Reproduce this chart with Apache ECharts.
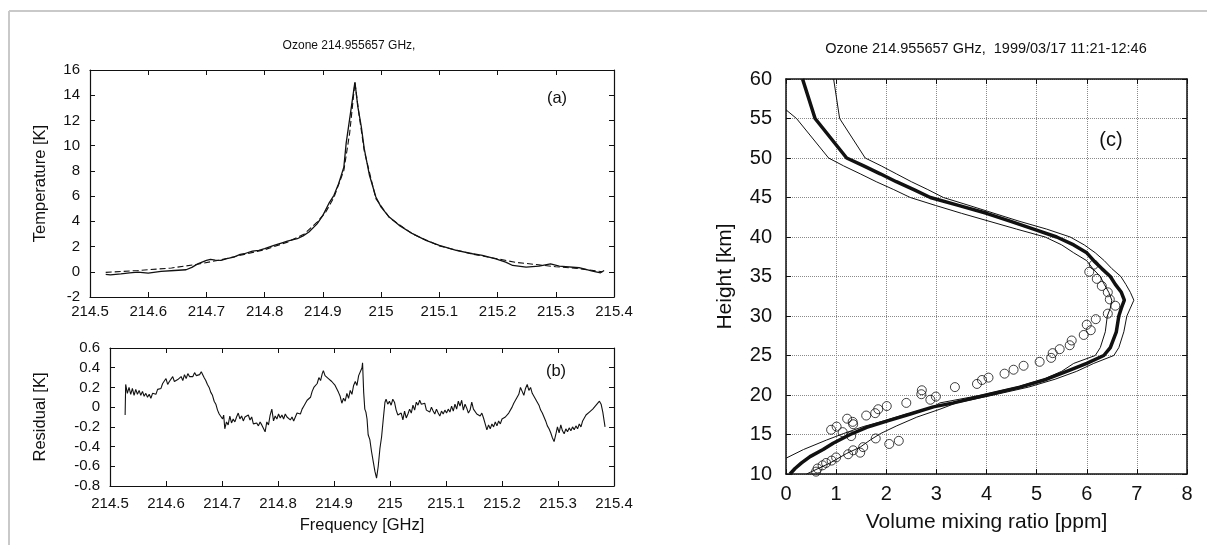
<!DOCTYPE html>
<html>
<head>
<meta charset="utf-8">
<title>Ozone 214.955657 GHz</title>
<script src="https://cdn.jsdelivr.net/npm/echarts@6/dist/echarts.min.js"></script>
<style>
  html, body { margin: 0; padding: 0; background: #fff; }
  #main { width: 1207px; height: 545px; }
</style>
</head>
<body>
<div id="main"></div>
<script>
// (a) measured spectrum [GHz, K]
const spectrum = [
  [214.527, -0.2], [214.535, -0.25], [214.553, -0.16], [214.568, -0.08], [214.582, -0.03],
  [214.6, -0.1], [214.622, 0.03], [214.645, 0.1], [214.665, 0.16], [214.675, 0.35],
  [214.685, 0.63], [214.7, 0.9], [214.707, 0.98], [214.715, 0.92], [214.725, 0.9],
  [214.735, 1.05], [214.747, 1.16], [214.758, 1.38], [214.765, 1.43], [214.779, 1.64],
  [214.79, 1.7], [214.8, 1.83], [214.816, 2.09], [214.83, 2.3], [214.839, 2.43],
  [214.856, 2.62], [214.866, 2.85], [214.876, 3.15], [214.89, 3.8], [214.9, 4.47],
  [214.91, 5.4], [214.919, 6.06], [214.927, 6.98], [214.936, 8.3], [214.94, 10.2],
  [214.949, 13.1], [214.955, 15.05], [214.96, 13.1], [214.966, 11.5], [214.971, 9.76],
  [214.98, 7.65], [214.991, 5.93], [215.0, 5.13], [215.014, 4.34], [215.031, 3.68],
  [215.054, 3.02], [215.077, 2.49], [215.1, 2.09], [215.129, 1.69], [215.157, 1.43],
  [215.174, 1.3], [215.197, 1.03], [215.214, 0.77], [215.226, 0.5], [215.249, 0.37],
  [215.271, 0.45], [215.291, 0.63], [215.306, 0.45], [215.34, 0.32], [215.363, 0.05],
  [215.377, -0.08], [215.383, 0.1]
];

// (a) model fit, dashed
const fit = [
  [214.527, -0.05], [214.582, 0.1], [214.64, 0.3], [214.685, 0.6], [214.725, 0.95],
  [214.765, 1.38], [214.8, 1.75], [214.839, 2.35], [214.868, 3.0], [214.89, 3.94],
  [214.905, 4.74], [214.919, 5.9], [214.936, 8.04], [214.946, 11.0], [214.955, 15.0],
  [214.962, 12.5], [214.971, 9.6], [214.991, 5.8], [215.014, 4.3], [215.054, 3.0],
  [215.1, 2.05], [215.157, 1.4], [215.197, 1.05], [215.231, 0.75], [215.271, 0.55],
  [215.3, 0.4], [215.34, 0.25], [215.38, 0.0]
];

// (b) residual [GHz, K]
const residual = [
  [214.527, -0.08], [214.528, 0.23], [214.531, 0.14], [214.534, 0.2], [214.537, 0.13],
  [214.54, 0.19], [214.543, 0.12], [214.546, 0.18], [214.549, 0.13], [214.552, 0.17],
  [214.555, 0.12], [214.558, 0.16], [214.561, 0.11], [214.564, 0.14], [214.567, 0.1],
  [214.57, 0.13], [214.573, 0.09], [214.576, 0.14], [214.579, 0.16], [214.582, 0.13],
  [214.585, 0.18], [214.588, 0.2], [214.591, 0.19], [214.594, 0.24], [214.597, 0.22],
  [214.6, 0.29], [214.603, 0.23], [214.606, 0.26], [214.609, 0.24], [214.612, 0.31],
  [214.615, 0.26], [214.618, 0.25], [214.621, 0.28], [214.624, 0.26], [214.627, 0.31],
  [214.63, 0.27], [214.633, 0.33], [214.636, 0.29], [214.639, 0.34], [214.642, 0.31],
  [214.645, 0.33], [214.648, 0.31], [214.651, 0.35], [214.654, 0.32], [214.657, 0.34],
  [214.66, 0.33], [214.663, 0.36], [214.665, 0.38], [214.668, 0.3], [214.671, 0.27],
  [214.674, 0.23], [214.677, 0.2], [214.68, 0.15], [214.683, 0.12], [214.686, 0.06],
  [214.689, 0.03], [214.692, -0.03], [214.695, -0.07], [214.698, -0.05], [214.701, -0.12],
  [214.703, -0.08], [214.705, -0.22], [214.708, -0.15], [214.711, -0.18], [214.714, -0.09],
  [214.717, -0.16], [214.72, -0.12], [214.723, -0.15], [214.726, -0.1], [214.729, -0.06],
  [214.732, -0.12], [214.735, -0.09], [214.738, -0.14], [214.741, -0.1], [214.744, -0.12],
  [214.747, -0.08], [214.75, -0.13], [214.753, -0.1], [214.756, -0.17], [214.759, -0.19],
  [214.762, -0.16], [214.765, -0.19], [214.768, -0.15], [214.771, -0.18], [214.774, -0.16],
  [214.777, -0.25], [214.78, -0.15], [214.783, -0.18], [214.786, -0.08], [214.789, -0.02],
  [214.792, -0.14], [214.795, -0.09], [214.798, -0.12], [214.801, -0.07], [214.804, -0.11],
  [214.807, -0.08], [214.81, -0.12], [214.813, -0.07], [214.816, -0.1], [214.819, -0.09],
  [214.822, -0.13], [214.825, -0.1], [214.828, -0.14], [214.831, -0.1], [214.834, -0.06],
  [214.837, -0.04], [214.84, -0.07], [214.843, -0.02], [214.846, 0.01], [214.849, 0.03],
  [214.852, 0.07], [214.855, 0.09], [214.858, 0.1], [214.861, 0.16], [214.864, 0.2],
  [214.867, 0.18], [214.87, 0.24], [214.873, 0.3], [214.876, 0.27], [214.879, 0.34],
  [214.881, 0.37], [214.884, 0.32], [214.887, 0.33], [214.89, 0.29], [214.893, 0.3],
  [214.896, 0.26], [214.899, 0.27], [214.902, 0.22], [214.905, 0.23], [214.908, 0.15],
  [214.911, 0.11], [214.914, 0.04], [214.917, 0.09], [214.92, 0.06], [214.923, 0.14],
  [214.926, 0.09], [214.929, 0.17], [214.932, 0.13], [214.935, 0.22], [214.938, 0.26],
  [214.941, 0.22], [214.944, 0.32], [214.947, 0.3], [214.95, 0.4], [214.951, 0.45],
  [214.953, 0.15], [214.955, -0.02], [214.957, -0.05], [214.959, -0.12], [214.961, -0.28],
  [214.964, -0.33], [214.967, -0.45], [214.97, -0.55], [214.973, -0.65], [214.976, -0.72],
  [214.979, -0.6], [214.982, -0.42], [214.985, -0.3], [214.988, -0.12], [214.991, 0.05],
  [214.993, 0.08], [214.996, 0.03], [214.999, 0.06], [215.002, 0.02], [215.005, 0.08],
  [215.008, 0.05], [215.011, -0.03], [215.014, -0.08], [215.017, -0.1], [215.02, -0.06],
  [215.023, -0.13], [215.026, -0.04], [215.029, -0.11], [215.032, -0.07], [215.035, -0.02],
  [215.038, -0.06], [215.041, 0.02], [215.044, -0.03], [215.047, 0.05], [215.05, 0.02],
  [215.053, 0.07], [215.056, 0.03], [215.059, 0.01], [215.062, 0.04], [215.065, -0.03],
  [215.068, -0.01], [215.071, -0.05], [215.074, 0.0], [215.077, -0.04], [215.08, -0.07],
  [215.083, -0.02], [215.086, -0.06], [215.089, -0.09], [215.092, -0.04], [215.095, -0.07],
  [215.098, -0.03], [215.101, -0.06], [215.104, -0.02], [215.107, -0.05], [215.11, 0.01],
  [215.113, -0.04], [215.116, 0.03], [215.119, -0.02], [215.122, 0.06], [215.125, 0.01],
  [215.128, 0.07], [215.131, -0.03], [215.134, 0.03], [215.137, -0.01], [215.14, -0.06],
  [215.143, -0.03], [215.146, 0.05], [215.149, -0.02], [215.152, 0.0], [215.155, -0.07],
  [215.158, -0.05], [215.161, -0.09], [215.164, -0.06], [215.167, -0.11], [215.17, -0.17],
  [215.173, -0.23], [215.176, -0.18], [215.179, -0.22], [215.182, -0.17], [215.185, -0.2],
  [215.188, -0.15], [215.191, -0.19], [215.194, -0.14], [215.197, -0.17], [215.2, -0.12],
  [215.203, -0.14], [215.206, -0.1], [215.209, -0.11], [215.212, -0.06], [215.215, -0.04],
  [215.218, 0.0], [215.221, 0.04], [215.224, 0.06], [215.227, 0.1], [215.23, 0.13],
  [215.233, 0.2], [215.236, 0.16], [215.239, 0.12], [215.242, 0.19], [215.245, 0.23],
  [215.248, 0.17], [215.251, 0.2], [215.254, 0.14], [215.257, 0.12], [215.26, 0.08],
  [215.263, 0.05], [215.266, 0.02], [215.269, -0.03], [215.272, -0.06], [215.275, -0.08],
  [215.278, -0.14], [215.281, -0.19], [215.284, -0.22], [215.287, -0.26], [215.29, -0.31],
  [215.293, -0.35], [215.296, -0.28], [215.299, -0.2], [215.302, -0.26], [215.305, -0.18],
  [215.308, -0.24], [215.311, -0.27], [215.314, -0.22], [215.317, -0.25], [215.32, -0.21],
  [215.323, -0.24], [215.326, -0.2], [215.329, -0.23], [215.332, -0.19], [215.335, -0.22],
  [215.338, -0.17], [215.341, -0.2], [215.344, -0.14], [215.347, -0.12], [215.35, -0.08],
  [215.353, -0.1], [215.356, -0.05], [215.359, -0.06], [215.362, -0.02], [215.365, -0.03],
  [215.368, 0.02], [215.371, 0.03], [215.374, 0.06], [215.377, 0.03], [215.38, -0.05],
  [215.384, -0.2]
];

// (c) retrieved profile [ppm, km]
const retrieved = [
  [0.08, 10], [0.18, 10.7], [0.31, 11.4], [0.48, 12.2], [0.74, 13.1], [0.94, 13.9],
  [1.28, 15], [1.61, 15.9], [2.01, 16.7], [2.48, 17.6], [2.94, 18.5], [3.34, 19],
  [4.0, 20], [4.67, 21], [5.2, 22], [5.6, 23], [6.0, 24], [6.34, 25], [6.47, 26],
  [6.59, 28], [6.64, 30], [6.69, 31], [6.75, 32], [6.69, 33], [6.57, 34], [6.47, 35],
  [6.3, 36], [6.14, 37], [6.0, 38], [5.74, 39], [5.4, 40], [4.94, 41], [4.47, 42],
  [4.0, 43], [3.44, 44], [2.88, 45], [2.55, 46], [2.2, 47], [1.88, 48], [1.55, 49],
  [1.21, 50], [0.58, 55], [0.33, 60]
];

// (c) error envelope
const lowerBound = [
  [0, 12], [0.35, 13.1], [0.81, 14.3], [1.14, 15.1], [1.54, 16], [1.94, 16.7],
  [2.41, 17.6], [2.94, 18.5], [3.07, 19], [3.91, 20], [4.6, 21], [5.14, 22], [5.5, 23],
  [5.74, 24], [6.17, 25], [6.27, 26], [6.37, 28], [6.41, 30], [6.47, 31], [6.5, 32],
  [6.44, 33], [6.35, 34], [6.27, 35], [6.12, 36], [6.0, 37], [5.74, 38], [5.5, 39],
  [5.17, 40], [4.6, 41], [4.05, 42], [3.5, 43], [2.98, 44], [2.48, 45], [2.15, 46],
  [1.8, 47], [1.48, 48], [1.15, 49], [0.85, 50], [0.21, 55], [0, 56.1]
];
const upperBound = [
  [0.41, 10], [0.88, 11.4], [1.21, 12.6], [1.48, 13.4], [1.68, 14.3], [1.88, 15.1],
  [2.21, 16.1], [2.61, 17.2], [3.07, 18.2], [3.4, 19], [4.14, 20], [4.84, 21],
  [5.37, 22], [5.8, 23], [6.14, 24], [6.54, 25], [6.64, 26], [6.74, 28], [6.8, 30],
  [6.87, 31], [6.94, 32], [6.87, 33], [6.78, 34], [6.68, 35], [6.5, 36], [6.35, 37],
  [6.17, 38], [5.95, 39], [5.67, 40], [5.2, 41], [4.65, 42], [4.15, 43], [3.65, 44],
  [3.14, 45], [2.83, 46], [2.5, 47], [2.2, 48], [1.9, 49], [1.58, 50], [1.07, 55],
  [0.95, 60]
];

// (c) sonde points, open circles
const sonde = [
  [6.14, 36.5], [6.05, 35.6], [6.2, 34.7], [6.3, 33.8], [6.42, 33.0], [6.46, 32.1],
  [6.57, 31.3], [6.42, 30.3], [6.18, 29.6], [6.0, 28.9], [6.08, 28.2], [5.94, 27.6],
  [5.7, 26.9], [5.66, 26.3], [5.46, 25.8], [5.32, 25.3], [5.29, 24.7], [5.06, 24.2],
  [4.74, 23.7], [4.54, 23.2], [4.36, 22.7], [4.04, 22.2], [3.91, 21.9], [3.81, 21.4],
  [3.37, 21.0], [2.71, 20.6], [2.7, 20.1], [2.99, 19.8], [2.88, 19.4], [2.4, 19.0],
  [2.01, 18.6], [1.84, 18.2], [1.78, 17.7], [1.6, 17.4], [1.22, 17.0], [1.33, 16.6],
  [1.34, 16.3], [1.01, 16.0], [0.9, 15.6], [1.13, 15.3], [1.3, 14.8], [1.79, 14.5],
  [2.25, 14.2], [2.06, 13.8], [1.54, 13.4], [1.34, 13.0], [1.48, 12.7], [1.24, 12.5],
  [1.0, 12.1], [0.91, 11.7], [0.8, 11.4], [0.73, 11.1], [0.63, 10.7], [0.6, 10.3]
];

const FONT = "'Liberation Sans', Arial, sans-serif";

var chartDom = document.getElementById('main');
var myChart = echarts.init(chartDom, null, { renderer: 'canvas' });

// one axis of a gnuplot-like box: ticks point inward, mirrors carry no labels
function boxAxis(grid, pos, min, max, interval, opts) {
  opts = opts || {};
  return {
    type: 'value',
    gridIndex: grid,
    position: pos,
    min: min,
    max: max,
    interval: interval,
    axisLine: { show: true, onZero: false, lineStyle: { color: '#111', width: opts.lineWidth || 1.2 } },
    axisTick: { show: true, inside: true, length: 5, lineStyle: { color: '#111', width: 1 } },
    axisLabel: {
      show: !!opts.label,
      color: '#111',
      fontFamily: FONT,
      fontSize: opts.fontSize || 15,
      margin: opts.margin || 8
    },
    splitLine: opts.grid
      ? { show: true, lineStyle: { color: '#8a8a8a', type: 'dotted', width: 1 } }
      : { show: false },
    name: opts.name || '',
    nameLocation: 'middle',
    nameGap: opts.nameGap || 0,
    nameTextStyle: { color: '#111', fontFamily: FONT, fontSize: opts.nameSize || 16.5 }
  };
}

function lineSeries(data, x, y, width, dashed) {
  return {
    type: 'line',
    xAxisIndex: x,
    yAxisIndex: y,
    data: data,
    showSymbol: false,
    smooth: false,
    clip: true,
    lineStyle: { color: '#111', width: width, type: dashed ? [6, 3] : 'solid' },
    z: dashed ? 3 : 4
  };
}

function label(text, x, y, size) {
  return {
    type: 'text',
    x: x,
    y: y,
    style: {
      text: text,
      fill: '#111',
      font: size + 'px ' + FONT,
      textAlign: 'center',
      textVerticalAlign: 'middle'
    }
  };
}

var option = {
  animation: false,
  backgroundColor: '#fff',
  grid: [
    { left: 90, top: 70, width: 524, height: 227 },
    { left: 110, top: 348, width: 504, height: 138 },
    { left: 786, top: 79, width: 401, height: 395 }
  ],
  xAxis: [
    boxAxis(0, 'bottom', 214.5, 215.4, 0.1, { label: true, margin: 7 }),
    boxAxis(0, 'top', 214.5, 215.4, 0.1),
    boxAxis(1, 'bottom', 214.5, 215.4, 0.1, { label: true, margin: 10, name: 'Frequency [GHz]', nameGap: 31 }),
    boxAxis(1, 'top', 214.5, 215.4, 0.1),
    boxAxis(2, 'bottom', 0, 8, 1, {
      label: true, grid: true, fontSize: 20, margin: 10, lineWidth: 1.5,
      name: 'Volume mixing ratio [ppm]', nameGap: 38, nameSize: 21
    }),
    boxAxis(2, 'top', 0, 8, 1, { lineWidth: 1.5 })
  ],
  yAxis: [
    boxAxis(0, 'left', -2, 16, 2, { label: true, margin: 10, name: 'Temperature [K]', nameGap: 41 }),
    boxAxis(0, 'right', -2, 16, 2),
    boxAxis(1, 'left', -0.8, 0.6, 0.2, { label: true, margin: 10, name: 'Residual [K]', nameGap: 61 }),
    boxAxis(1, 'right', -0.8, 0.6, 0.2),
    boxAxis(2, 'left', 10, 60, 5, {
      label: true, grid: true, fontSize: 20, margin: 14, lineWidth: 1.5,
      name: 'Height [km]', nameGap: 50, nameSize: 21
    }),
    boxAxis(2, 'right', 10, 60, 5, { lineWidth: 1.5 })
  ],
  series: [
    lineSeries(fit, 0, 0, 1.1, true),
    lineSeries(spectrum, 0, 0, 1.3, false),
    lineSeries(residual, 2, 2, 1.1, false),
    lineSeries(lowerBound, 4, 4, 1, false),
    lineSeries(upperBound, 4, 4, 1, false),
    lineSeries(retrieved, 4, 4, 3.5, false),
    {
      type: 'scatter',
      xAxisIndex: 4,
      yAxisIndex: 4,
      data: sonde,
      symbol: 'circle',
      symbolSize: 9,
      itemStyle: { color: 'rgba(0,0,0,0)', borderColor: '#111', borderWidth: 1 },
      z: 5
    }
  ],
  graphic: [
    // page frame
    { type: 'line', shape: { x1: 9, y1: 11, x2: 1207, y2: 11 }, style: { stroke: '#c9c9c9', lineWidth: 2 } },
    { type: 'line', shape: { x1: 9, y1: 11, x2: 9, y2: 545 }, style: { stroke: '#c9c9c9', lineWidth: 2 } },
    label('Ozone 214.955657 GHz,', 349, 46, 12),
    label('Ozone 214.955657 GHz,  1999/03/17 11:21-12:46', 986, 49, 14.5),
    label('(a)', 557, 98, 16.5),
    label('(b)', 556, 371, 16.5),
    label('(c)', 1111, 140, 20)
  ]
};

myChart.setOption(option);

window.addEventListener('resize', function () {
  myChart.resize();
});
</script>
</body>
</html>
